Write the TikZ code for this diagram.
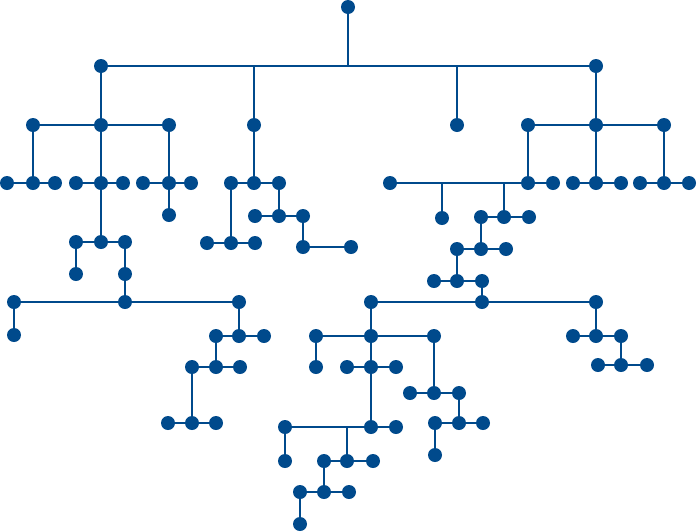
\documentclass[tikz,border=0pt]{standalone}
\definecolor{treeblue}{RGB}{0,74,140}
\begin{document}
\begin{tikzpicture}[x=1pt,y=-1pt,
  dot/.style={circle,fill=treeblue,inner sep=0pt,minimum size=14pt},
  link/.style={draw=treeblue,line width=2.8pt}]
\useasboundingbox (0,0) rectangle (697,531);
% level 0/1
\node[dot] (r) at (348,7) {};
\coordinate (j0) at (348,66);
\coordinate (jm) at (254,66);
\coordinate (jn) at (457,66);
\node[dot] (a) at (101,66) {};
\node[dot] (b) at (596,66) {};
\node[dot] (m) at (254,125) {};
\node[dot] (n) at (457,125) {};
% A subtree
\node[dot] (a1) at (33,125) {};
\node[dot] (a2) at (101,125) {};
\node[dot] (a3) at (169,125) {};
\node[dot] (a1l) at (7,183) {};
\node[dot] (a1c) at (33,183) {};
\node[dot] (a1r) at (55,183) {};
\node[dot] (a2l) at (76,183) {};
\node[dot] (a2c) at (101,183) {};
\node[dot] (a2r) at (123,183) {};
\node[dot] (a3l) at (143,183) {};
\node[dot] (a3c) at (169,183) {};
\node[dot] (a3r) at (191,183) {};
\node[dot] (a3d) at (169,215) {};
\node[dot] (c1) at (76,242) {};
\node[dot] (c2) at (101,242) {};
\node[dot] (c3) at (125,242) {};
\node[dot] (c1d) at (76,274) {};
\node[dot] (c3d) at (125,274) {};
\node[dot] (e1) at (14,302) {};
\node[dot] (e2) at (125,302) {};
\node[dot] (e3) at (239,302) {};
\node[dot] (e1d) at (14,335) {};
\node[dot] (f1) at (216,336) {};
\node[dot] (f2) at (239,336) {};
\node[dot] (f3) at (264,336) {};
\node[dot] (g1) at (192,367) {};
\node[dot] (g2) at (216,367) {};
\node[dot] (g3) at (240,367) {};
\node[dot] (h1) at (168,423) {};
\node[dot] (h2) at (192,423) {};
\node[dot] (h3) at (216,423) {};
% middle subtree
\node[dot] (m1) at (231,183) {};
\node[dot] (m2) at (254,183) {};
\node[dot] (m3) at (279,183) {};
\node[dot] (p1) at (207,243) {};
\node[dot] (p2) at (231,243) {};
\node[dot] (p3) at (255,243) {};
\node[dot] (q1) at (255,216) {};
\node[dot] (q2) at (279,216) {};
\node[dot] (q3) at (303,216) {};
\node[dot] (s1) at (303,247) {};
\node[dot] (s2) at (351,247) {};
% B subtree
\node[dot] (b1) at (528,125) {};
\node[dot] (b2) at (596,125) {};
\node[dot] (b3) at (664,125) {};
\node[dot] (t0) at (390,183) {};
\coordinate (tj1) at (442,183);
\coordinate (tj2) at (504,183);
\node[dot] (b1c) at (528,183) {};
\node[dot] (b1r) at (553,183) {};
\node[dot] (b2l) at (573,183) {};
\node[dot] (b2c) at (596,183) {};
\node[dot] (b2r) at (621,183) {};
\node[dot] (b3l) at (640,183) {};
\node[dot] (b3c) at (664,183) {};
\node[dot] (b3r) at (689,183) {};
\node[dot] (u) at (442,218) {};
\node[dot] (v1) at (481,217) {};
\node[dot] (v2) at (504,217) {};
\node[dot] (v3) at (529,217) {};
\node[dot] (w1) at (457,249) {};
\node[dot] (w2) at (481,249) {};
\node[dot] (w3) at (506,249) {};
\node[dot] (x1) at (434,281) {};
\node[dot] (x2) at (457,281) {};
\node[dot] (x3) at (482,281) {};
\node[dot] (k1) at (371,302) {};
\node[dot] (k2) at (482,302) {};
\node[dot] (k3) at (596,302) {};
\node[dot] (L1) at (316,336) {};
\node[dot] (L2) at (371,336) {};
\node[dot] (L3) at (434,336) {};
\node[dot] (L1d) at (316,367) {};
\node[dot] (M1) at (347,367) {};
\node[dot] (M2) at (371,367) {};
\node[dot] (M3) at (396,367) {};
\node[dot] (N0) at (285,427) {};
\coordinate (Nj) at (347,427);
\node[dot] (N1) at (371,427) {};
\node[dot] (N2) at (396,427) {};
\node[dot] (N0d) at (285,461) {};
\node[dot] (O1) at (324,461) {};
\node[dot] (O2) at (347,461) {};
\node[dot] (O3) at (373,461) {};
\node[dot] (P1) at (300,492) {};
\node[dot] (P2) at (324,492) {};
\node[dot] (P3) at (349,492) {};
\node[dot] (P1d) at (300,524) {};
\node[dot] (Q1) at (410,393) {};
\node[dot] (Q2) at (434,393) {};
\node[dot] (Q3) at (459,393) {};
\node[dot] (R1) at (435,423) {};
\node[dot] (R2) at (459,423) {};
\node[dot] (R3) at (483,423) {};
\node[dot] (R1d) at (435,455) {};
\node[dot] (S1) at (573,336) {};
\node[dot] (S2) at (596,336) {};
\node[dot] (S3) at (621,336) {};
\node[dot] (T1) at (598,365) {};
\node[dot] (T2) at (621,365) {};
\node[dot] (T3) at (647,365) {};
% connectors
\path[link] (r.center) -- (j0) (a.center) -- (b.center) (jm) -- (m.center) (jn) -- (n.center);
\path[link] (a.center) -- (c2.center) (a1.center) -- (a3.center) (a1.center) -- (a1c.center)
  (a1l.center) -- (a1r.center) (a2l.center) -- (a2r.center) (a3.center) -- (a3d.center)
  (a3l.center) -- (a3r.center) (c1.center) -- (c3.center) (c1.center) -- (c1d.center)
  (c3.center) -- (e2.center) (e1.center) -- (e3.center) (e1.center) -- (e1d.center)
  (e3.center) -- (f2.center) (f1.center) -- (f3.center) (f1.center) -- (g2.center)
  (g1.center) -- (g3.center) (g1.center) -- (h2.center) (h1.center) -- (h3.center);
\path[link] (m.center) -- (m2.center) (m1.center) -- (m3.center) (m1.center) -- (p2.center)
  (p1.center) -- (p3.center) (m3.center) -- (q2.center) (q1.center) -- (q3.center)
  (q3.center) -- (s1.center) (s1.center) -- (s2.center);
\path[link] (b.center) -- (b2c.center) (b1.center) -- (b3.center) (b1.center) -- (b1c.center)
  (b3.center) -- (b3c.center) (t0.center) -- (b1r.center) (b2l.center) -- (b2r.center)
  (b3l.center) -- (b3r.center) (tj1) -- (u.center) (tj2) -- (v2.center)
  (v1.center) -- (v3.center) (v1.center) -- (w2.center) (w1.center) -- (w3.center)
  (w1.center) -- (x2.center) (x1.center) -- (x3.center) (x3.center) -- (k2.center)
  (k1.center) -- (k3.center) (k1.center) -- (N1.center) (L1.center) -- (L3.center)
  (L1.center) -- (L1d.center) (M1.center) -- (M3.center) (N0.center) -- (N2.center)
  (Nj) -- (O2.center) (N0.center) -- (N0d.center) (O1.center) -- (O3.center)
  (O1.center) -- (P2.center) (P1.center) -- (P3.center) (P1.center) -- (P1d.center)
  (L3.center) -- (Q2.center) (Q1.center) -- (Q3.center) (Q3.center) -- (R2.center)
  (R1.center) -- (R3.center) (R1.center) -- (R1d.center) (k3.center) -- (S2.center)
  (S1.center) -- (S3.center) (S3.center) -- (T2.center) (T1.center) -- (T3.center);
\end{tikzpicture}
\end{document}
